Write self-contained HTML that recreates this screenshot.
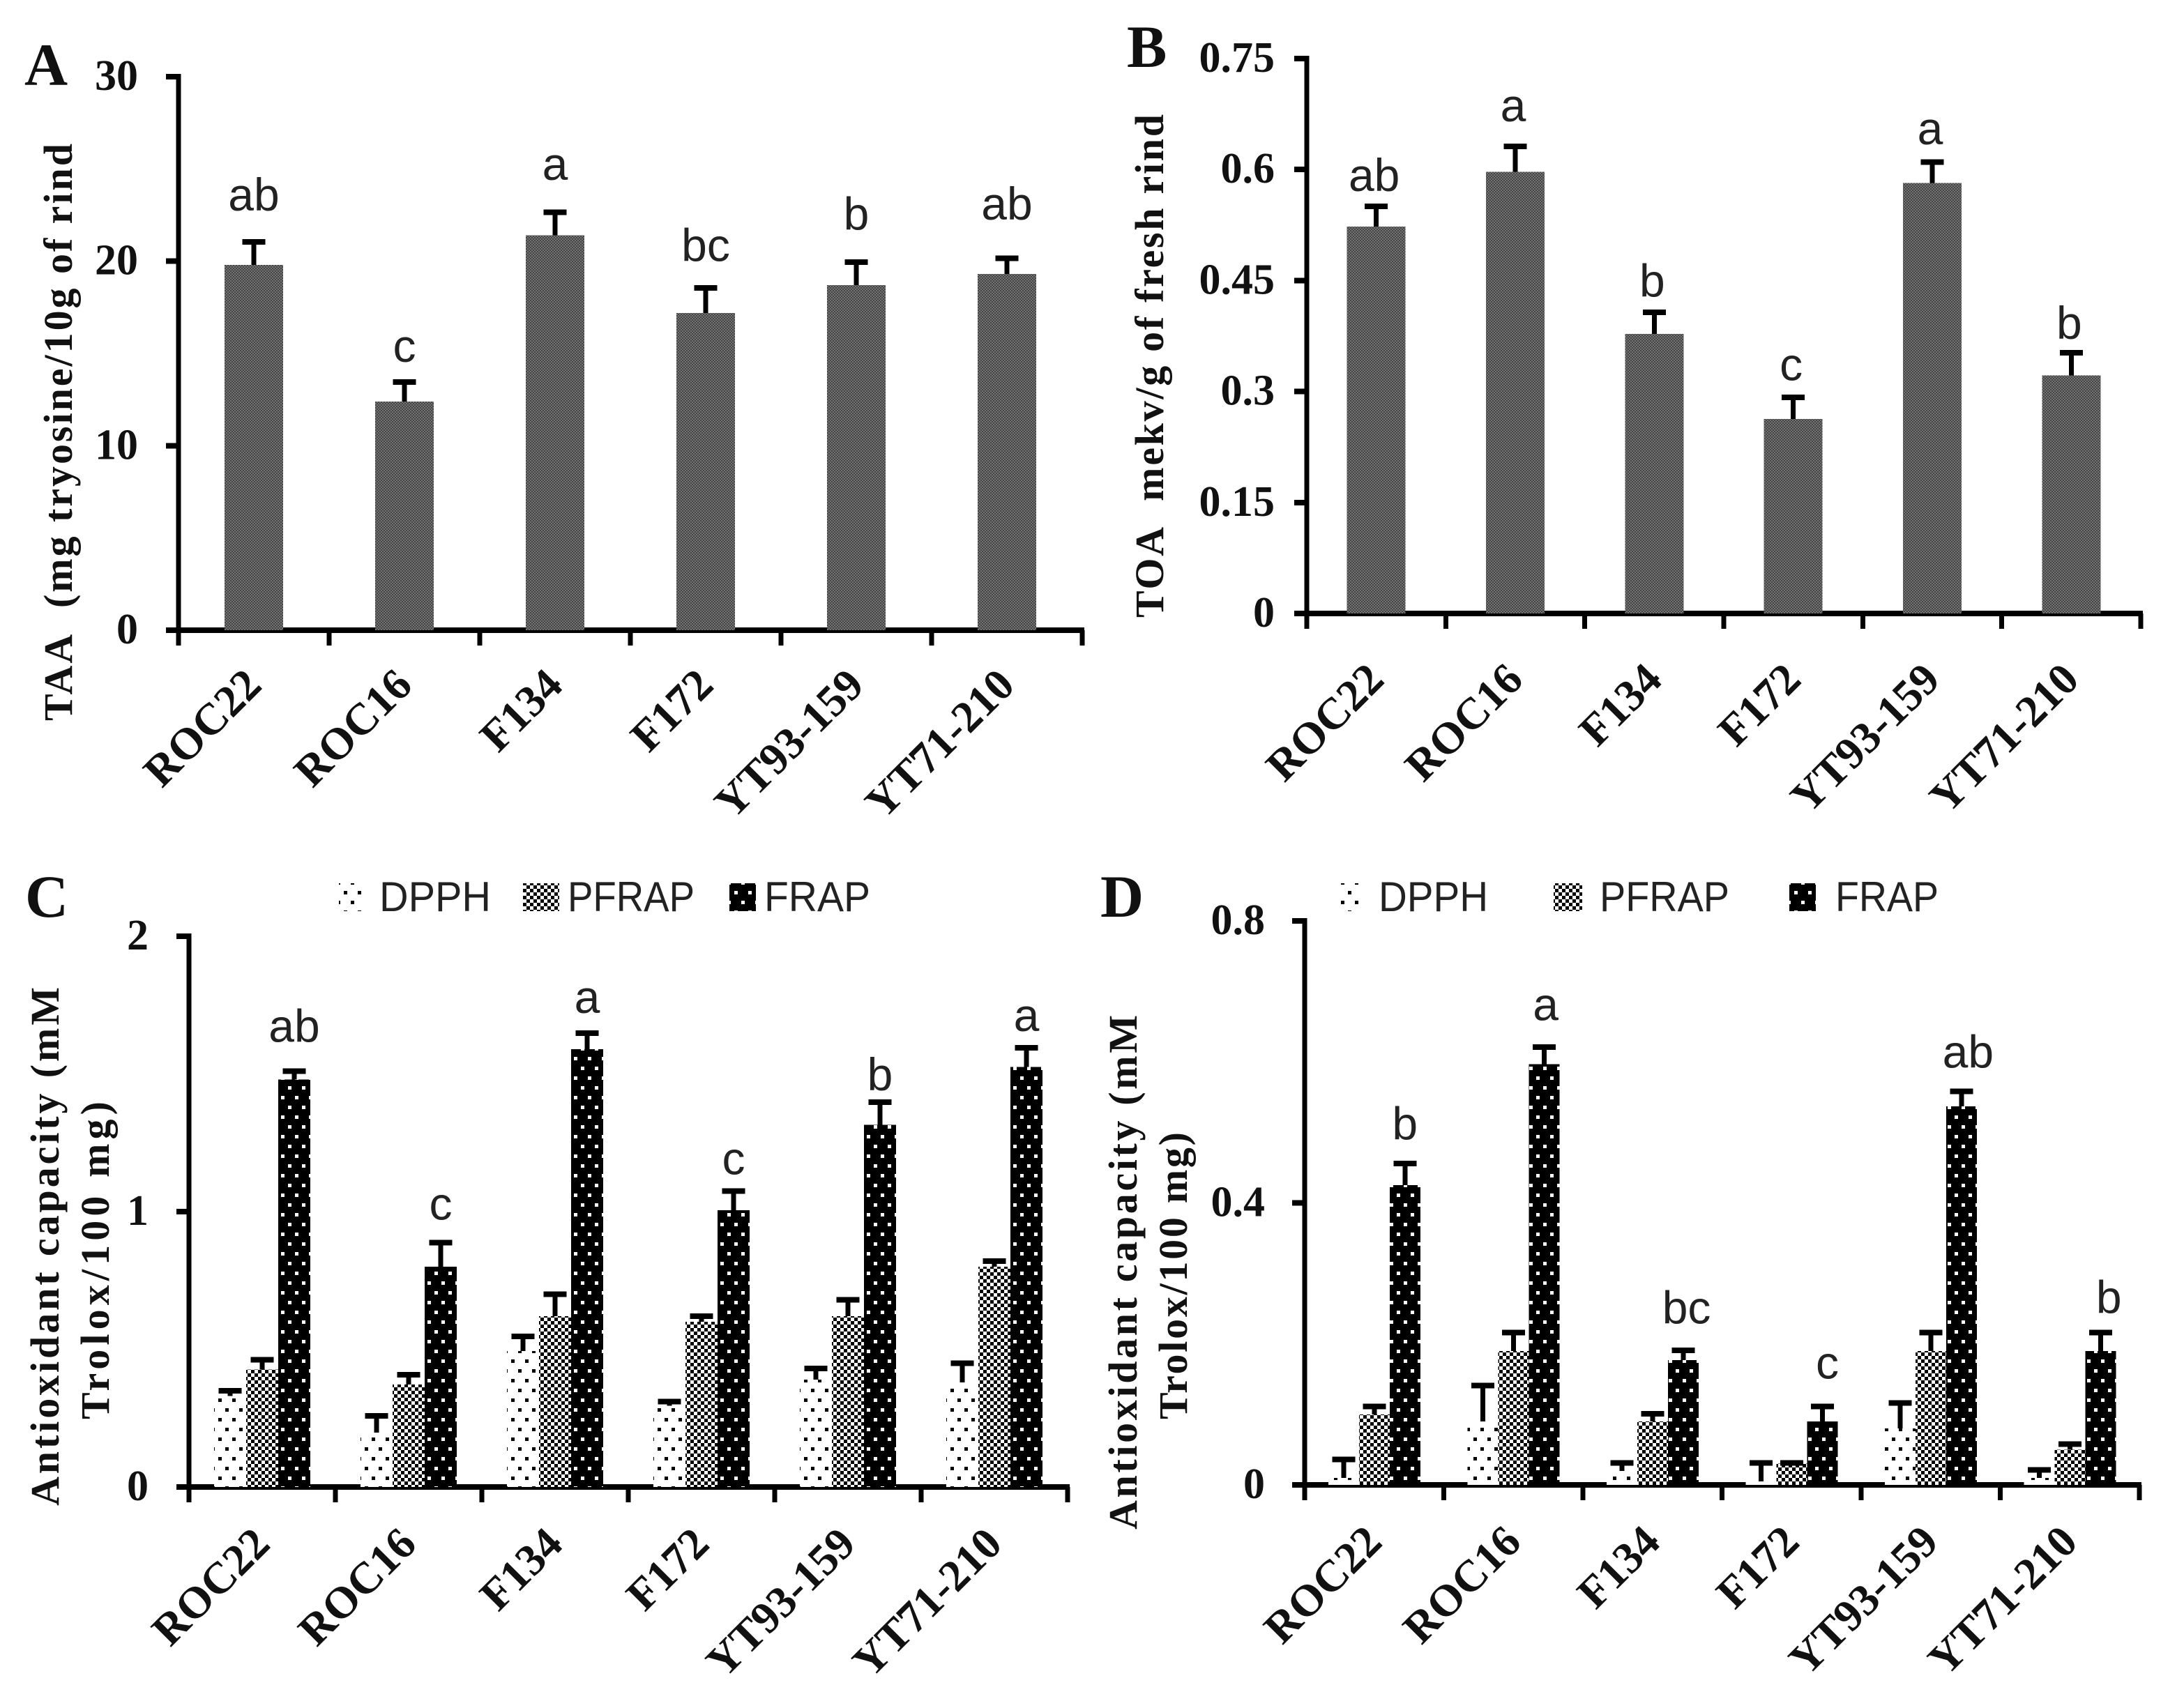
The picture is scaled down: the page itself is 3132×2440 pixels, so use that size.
<!DOCTYPE html>
<html lang="en">
<head>
<meta charset="utf-8">
<title>Sugarcane rind antioxidant charts</title>
<style>
html,body{margin:0;padding:0;background:#fff;}
svg{display:block;}
.tick{font-family:"Liberation Serif",serif;font-weight:bold;font-size:62px;fill:#111;}
.title{font-family:"Liberation Serif",serif;font-weight:bold;font-size:58px;fill:#111;}
.panel{font-family:"Liberation Serif",serif;font-weight:bold;font-size:86px;fill:#111;}
.cat{font-family:"Liberation Serif",serif;font-weight:bold;font-size:64px;fill:#111;}
.sig{font-family:"Liberation Sans",sans-serif;font-size:66px;fill:#222;}
.leg{font-family:"Liberation Sans",sans-serif;font-size:60px;fill:#222;}
</style>
</head>
<body>
<svg id="chart" xmlns="http://www.w3.org/2000/svg" width="3132" height="2440" viewBox="0 0 3132 2440">
<defs>
<pattern id="p-gray" width="4" height="4" patternUnits="userSpaceOnUse"><rect width="4" height="4" fill="#444"/><rect width="2" height="2" fill="#747474"/><rect x="2" y="2" width="2" height="2" fill="#747474"/></pattern>
<pattern id="p-dpph" width="20" height="28" patternUnits="userSpaceOnUse"><rect width="20" height="28" fill="#fff"/><rect x="3" y="4" width="5" height="5" fill="#000"/><rect x="13" y="18" width="5" height="5" fill="#000"/></pattern>
<pattern id="p-pfrap" width="10" height="10" patternUnits="userSpaceOnUse"><rect width="10" height="10" fill="#000"/><rect width="5" height="5" fill="#fff"/><rect x="5" y="5" width="5" height="5" fill="#fff"/></pattern>
<pattern id="p-frap" width="20" height="28" patternUnits="userSpaceOnUse"><rect width="20" height="28" fill="#000"/><rect x="3" y="4" width="5" height="5" fill="#fff"/><rect x="13" y="18" width="5" height="5" fill="#fff"/></pattern>
</defs>
</svg>
<script>
const categories = ["ROC22", "ROC16", "F134", "F172", "YT93-159", "YT71-210"];
const seriesNames = ["DPPH", "PFRAP", "FRAP"];

const ticksA = ["0", "10", "20", "30"];
const valuesA = [19.8, 12.4, 21.4, 17.2, 18.7, 19.3];
const errTopA = [21.2, 13.6, 22.8, 18.7, 20.1, 20.3];
const lettersA = ["ab", "c", "a", "bc", "b", "ab"];
const letterGapA = [1.55, 0.95, 1.6, 1.3, 1.6, 1.95];

const ticksB = ["0", "0.15", "0.3", "0.45", "0.6", "0.75"];
const valuesB = [0.523, 0.597, 0.378, 0.263, 0.582, 0.322];
const errTopB = [0.554, 0.635, 0.411, 0.296, 0.614, 0.356];
const lettersB = ["ab", "a", "b", "c", "a", "b"];
const letterGapB = [0.017, 0.03, 0.017, 0.019, 0.02, 0.015];

const ticksC = ["0", "1", "2"];
const dpphC = [0.33, 0.197, 0.494, 0.295, 0.39, 0.38];
const dpphErrC = [0.36, 0.268, 0.557, 0.32, 0.44, 0.46];
const pfrapC = [0.427, 0.372, 0.62, 0.6, 0.62, 0.8];
const pfrapErrC = [0.472, 0.418, 0.71, 0.63, 0.69, 0.83];
const frapC = [1.48, 0.8, 1.59, 1.005, 1.315, 1.525];
const frapErrC = [1.52, 0.897, 1.658, 1.085, 1.408, 1.605];
const lettersC = ["ab", "c", "a", "c", "b", "a"];
const letterGapC = [0.096, 0.074, 0.063, 0.051, 0.032, 0.051];

const ticksD = ["0", "0.4", "0.8"];
const dpphD = [0.01, 0.09, 0.02, 0.005, 0.08, 0.01];
const dpphErrD = [0.04, 0.145, 0.035, 0.035, 0.12, 0.025];
const pfrapD = [0.1, 0.19, 0.09, 0.03, 0.19, 0.05];
const pfrapErrD = [0.115, 0.22, 0.105, 0.035, 0.22, 0.062];
const frapD = [0.425, 0.597, 0.177, 0.09, 0.537, 0.19];
const frapErrD = [0.46, 0.625, 0.195, 0.115, 0.562, 0.22];
const lettersD = ["b", "a", "bc", "c", "ab", "b"];
const letterGapD = [0.03, 0.034, 0.034, 0.036, 0.03, 0.024];

const svg = document.getElementById('chart');
const NS = 'http://www.w3.org/2000/svg';

function mk(tag, attrs, text) {
  const n = document.createElementNS(NS, tag);
  for (const k in attrs) n.setAttribute(k, attrs[k]);
  if (text !== undefined) n.textContent = text;
  svg.appendChild(n);
  return n;
}
function rect(x, y, w, h, fill) {
  return mk('rect', {x: x, y: y, width: w, height: h, fill: fill, 'shape-rendering': 'crispEdges'});
}

function drawAxes(p) {
  const left = rect(p.x0 - 3.5, p.yTop - 4, 7, p.y0 - p.yTop + 26, '#000');
  
  
  const bottom = rect(p.x0 - 18, p.y0 - 4, p.x1 - p.x0 + 21, 8, '#000');
  
  
  p.ticks.forEach(function (label) {
    const y = p.yScale(parseFloat(label));
    const t = rect(p.x0 - 18, y - 4, 18, 8, '#000');
    
    
    const l = mk('text', {x: p.tickRight, y: y + 19, 'text-anchor': 'end', class: 'tick'}, label);
    
    
  });
  const step = (p.x1 - p.x0) / categories.length;
  for (let i = 0; i <= categories.length; i++) {
    const t = rect(p.x0 + i * step - 3.5, p.y0, 7, 22, '#000');
    
    
  }
  categories.forEach(function (c, i) {
    const ax = p.x0 + (i + 0.5) * step + 14;
    const ay = p.y0 + p.catDrop;
    const l = mk('text', {x: ax, y: ay, 'text-anchor': 'end', class: 'cat', transform: 'rotate(-45 ' + ax + ' ' + ay + ')'}, c);
    
    
  });
}

function drawBar(p, name, x, w, value, err, fill, capW) {
  const top = p.yScale(value);
  const b = rect(x, top, w, p.y0 - top, fill);
  
  
  const cx = x + w / 2;
  const eTop = p.yScale(err);
  const stem = rect(cx - 3.5, eTop, 7, Math.max(top - eTop, 8), '#000');
  
  
  const cap = rect(cx - capW / 2, eTop, capW, 8, '#000');
  
  
}

function drawLetter(p, text, cx, err, gap) {
  const l = mk('text', {x: cx, y: p.yScale(err + gap), 'text-anchor': 'middle', class: 'sig'}, text);
  
  
}

function singlePanel(p, values, errs, letters, gaps, letterShift) {
  const step = (p.x1 - p.x0) / categories.length;
  drawAxes(p);
  values.forEach(function (v, i) {
    const cx = p.x0 + (i + 0.5) * step;
    drawBar(p, categories[i], cx - 42, 84, v, errs[i], 'url(#p-gray)', 33);
    drawLetter(p, letters[i], cx + letterShift, errs[i], gaps[i]);
  });
}

function groupPanel(p, series, errSeries, letters, gaps, letterDrift) {
  const step = (p.x1 - p.x0) / categories.length;
  const fills = ['url(#p-dpph)', 'url(#p-pfrap)', 'url(#p-frap)'];
  drawAxes(p);
  categories.forEach(function (c, i) {
    const cx = p.x0 + (i + 0.5) * step;
    series.forEach(function (vals, s) {
      const x = cx - p.barW * 1.5 + s * p.barW;
      drawBar(p, c + '-' + seriesNames[s], x, p.barW, vals[i], errSeries[s][i], fills[s], 33);
    });
    drawLetter(p, letters[i], cx + p.barW + i * letterDrift, errSeries[2][i], gaps[i]);
  });
}

function yTitle(id, text, x, yStart, len) {
  const t = mk('text', {x: x, y: yStart, class: 'title', textLength: len, lengthAdjust: 'spacing', transform: 'rotate(-90 ' + x + ' ' + yStart + ')'}, text);
  
  
}

function panelLabel(text, x, y) {
  const t = mk('text', {x: x, y: y, class: 'panel'}, text);
  
  
}

function legendEntry(id, s, swatchX, swatchW, textX, textW, y) {
  const fills = ['url(#p-dpph)', 'url(#p-pfrap)', 'url(#p-frap)'];
  const sw = rect(swatchX, y - 40, swatchW, 40, fills[s]);
  
  
  const t = mk('text', {x: textX, y: y, class: 'leg', textLength: textW, lengthAdjust: 'spacingAndGlyphs'}, seriesNames[s]);
  
  
}

function makePanel(id, x0, x1, y0, yTop, maxV, ticks, tickRight, catDrop, barW) {
  return {
    id: id, x0: x0, x1: x1, y0: y0, yTop: yTop, ticks: ticks, tickRight: tickRight, catDrop: catDrop, barW: barW,
    yScale: function (v) { return y0 - (v / maxV) * (y0 - yTop); }
  };
}

const pA = makePanel('panel-a', 256, 1552, 904, 110, 30, ticksA, 198, 82, 84);
const pB = makePanel('panel-b', 1874, 3070, 880, 84, 0.75, ticksB, 1828, 98, 84);
const pC = makePanel('panel-c', 271, 1531, 2133, 1343, 2, ticksC, 213, 85, 46);
const pD = makePanel('panel-d', 1871, 3068, 2130, 1321, 0.8, ticksD, 1814, 85, 44);

singlePanel(pA, valuesA, errTopA, lettersA, letterGapA, 0);
singlePanel(pB, valuesB, errTopB, lettersB, letterGapB, -3);
groupPanel(pC, [dpphC, pfrapC, frapC], [dpphErrC, pfrapErrC, frapErrC], lettersC, letterGapC, 0);
groupPanel(pD, [dpphD, pfrapD, frapD], [dpphErrD, pfrapErrD, frapErrD], lettersD, letterGapD, 2.4);

panelLabel('A', 35, 122);
panelLabel('B', 1616, 96);
panelLabel('C', 36, 1315);
panelLabel('D', 1578, 1315);

yTitle('panel-a', 'TAA\u00a0\u00a0(mg tryosine/10g of rind', 103, 1034, 828);
yTitle('panel-b', 'TOA\u00a0\u00a0mekv/g of fresh rind', 1668, 886, 722);
yTitle('panel-c', 'Antioxidant capacity (mM', 84, 2160, 744);
yTitle('panel-c-line2', 'Trolox/100 mg)', 156, 2036, 456);
yTitle('panel-d', 'Antioxidant capacity (mM', 1630, 2194, 738);
yTitle('panel-d-line2', 'Trolox/100 mg)', 1702, 2036, 412);

legendEntry('panel-c-dpph', 0, 486, 34, 544, 160, 1307);
legendEntry('panel-c-pfrap', 1, 750, 52, 814, 182, 1307);
legendEntry('panel-c-frap', 2, 1046, 38, 1096, 152, 1307);
legendEntry('panel-d-dpph', 0, 1918, 34, 1977, 157, 1307);
legendEntry('panel-d-pfrap', 1, 2228, 41, 2294, 186, 1307);
legendEntry('panel-d-frap', 2, 2566, 38, 2632, 148, 1307);
</script>
</body>
</html>
